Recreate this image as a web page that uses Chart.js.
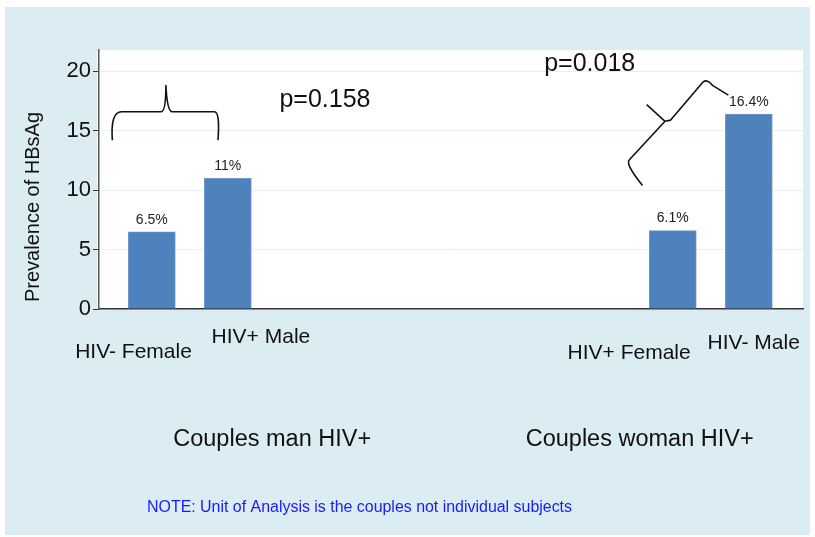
<!DOCTYPE html>
<html>
<head>
<meta charset="utf-8">
<script src="https://cdn.jsdelivr.net/npm/chart.js@4"></script>
<style>
  html, body { margin: 0; padding: 0; background: #ffffff; }
  #wrap { width: 815px; height: 537px; }
</style>
</head>
<body>
<div id="wrap"><canvas id="barChart" width="815" height="537"></canvas></div>
<script>
// Data
const categories = ['HIV- Female', 'HIV+ Male', 'HIV+ Female', 'HIV- Male'];
const groups = ['Couples man HIV+', 'Couples woman HIV+'];
const prevalence = [6.5, 11, 6.6, 16.4];
const valueLabels = ['6.5%', '11%', '6.1%', '16.4%'];
const pValues = ['p=0.158', 'p=0.018'];
const yTicks = [0, 5, 10, 15, 20];
const yTitle = 'Prevalence of HBsAg';
const note = 'NOTE: Unit of Analysis is the couples not individual subjects';

// Layout (positions on the x scale 0..100, not data)
const barPos = [7.5, 18.3, 81.5, 92.3];
const catLabelPos = [[4.9, 352], [23, 337], [75.3, 353], [93, 343]];
const groupPos = [24.6, 76.8];
const pPos = [[32.1, 17.6], [69.7, 20.6]];

const FONT = 'Liberation Sans, Arial, sans-serif';

// Achtergrond, labels en accolades tekenen
const decor = {
  id: 'decor',
  beforeDraw(chart) {
    const c = chart.ctx, a = chart.chartArea;
    c.save();
    c.fillStyle = '#dbecf2';
    c.fillRect(5, 7, 805, 528);
    c.fillStyle = '#ffffff';
    c.fillRect(a.left - 2, a.top, a.right - a.left + 2, a.bottom - a.top);
    c.restore();
  },
  afterDraw(chart) {
    const c = chart.ctx;
    const xs = chart.scales.x, ys = chart.scales.y;
    const X = v => xs.getPixelForValue(v);
    const Y = v => ys.getPixelForValue(v);
    c.save();

    // as-titel
    c.fillStyle = '#111';
    c.font = '20px ' + FONT;
    c.textAlign = 'center';
    c.textBaseline = 'middle';
    c.translate(33, 207);
    c.rotate(-Math.PI / 2);
    c.fillText(yTitle, 0, 0);
    c.setTransform(1, 0, 0, 1, 0, 0);

    // waarden boven de staven
    c.fillStyle = '#222';
    c.font = '14px ' + FONT;
    c.textBaseline = 'bottom';
    prevalence.forEach((v, i) => c.fillText(valueLabels[i], X(barPos[i]), Y(v) - 5));

    // categorie labels
    c.fillStyle = '#111';
    c.font = '21px ' + FONT;
    c.textBaseline = 'middle';
    categories.forEach((t, i) => c.fillText(t, X(catLabelPos[i][0]), catLabelPos[i][1]));

    // groep labels
    c.font = '23.5px ' + FONT;
    groups.forEach((t, i) => c.fillText(t, X(groupPos[i]), 440));

    // p-waarden
    c.font = '25px ' + FONT;
    pValues.forEach((t, i) => c.fillText(t, X(pPos[i][0]), Y(pPos[i][1])));

    // noot
    c.fillStyle = '#1a1aff';
    c.font = '16px ' + FONT;
    c.textAlign = 'left';
    c.fillText(note, 147, 508, 425);

    // accolade links (horizontaal)
    c.strokeStyle = '#111';
    c.lineWidth = 1.6;
    c.lineJoin = 'round';
    c.beginPath();
    c.moveTo(X(1.9), Y(14.2));
    c.quadraticCurveTo(X(1.6), Y(16.6), X(3.2), Y(16.6));
    c.lineTo(X(8.8), Y(16.6));
    c.quadraticCurveTo(X(9.5), Y(16.6), X(9.5), Y(18.8));
    c.quadraticCurveTo(X(9.7), Y(16.6), X(10.4), Y(16.6));
    c.lineTo(X(16.4), Y(16.6));
    c.quadraticCurveTo(X(17.2), Y(16.6), X(16.9), Y(14.2));
    c.stroke();

    // accolade rechts (schuin)
    c.beginPath();
    c.moveTo(X(77.2), Y(10.4));
    c.quadraticCurveTo(X(74.6), Y(12.3), X(75.4), Y(12.6));
    c.lineTo(X(80.4), Y(15.8));
    c.lineTo(X(77.8), Y(17.2));
    c.moveTo(X(80.4), Y(15.8));
    c.lineTo(X(81.2), Y(15.9));
    c.lineTo(X(85.8), Y(19.1));
    c.quadraticCurveTo(X(86.4), Y(19.4), X(87.2), Y(18.8));
    c.lineTo(X(89.4), Y(18.0));
    c.stroke();
    c.restore();
  }
};

const ctx = document.getElementById('barChart').getContext('2d');
const barChart = new Chart(ctx, {
  type: 'bar',
  data: {
    datasets: [{
      data: barPos.map((x, i) => ({ x: x, y: prevalence[i] })),
      backgroundColor: '#4f81bd',
      borderColor: '#6d97c9',
      borderWidth: 1,
      barThickness: 47
    }]
  },
  options: {
    responsive: false,
    animation: false,
    layout: { padding: { top: 50, right: 12, left: 0, bottom: 0 } },
    plugins: {
      legend: { display: false },
      tooltip: { enabled: false }
    },
    scales: {
      x: {
        type: 'linear',
        min: 0,
        max: 100,
        offset: false,
        ticks: { display: false },
        grid: { display: false },
        border: { display: true, color: '#333', width: 1.5 },
        afterFit: s => { s.height = 228; }
      },
      y: {
        min: 0,
        max: 21.8,
        afterBuildTicks: s => { s.ticks = yTicks.map(v => ({ value: v })); },
        ticks: {
          color: '#111',
          font: { family: FONT, size: 22 },
          padding: 2
        },
        grid: {
          color: '#e6eff3',
          tickColor: '#333',
          tickLength: 6
        },
        border: { display: true, color: '#555', width: 1.5 },
        afterFit: s => { s.width = 99; }
      }
    }
  },
  plugins: [decor]
});
</script>
</body>
</html>
